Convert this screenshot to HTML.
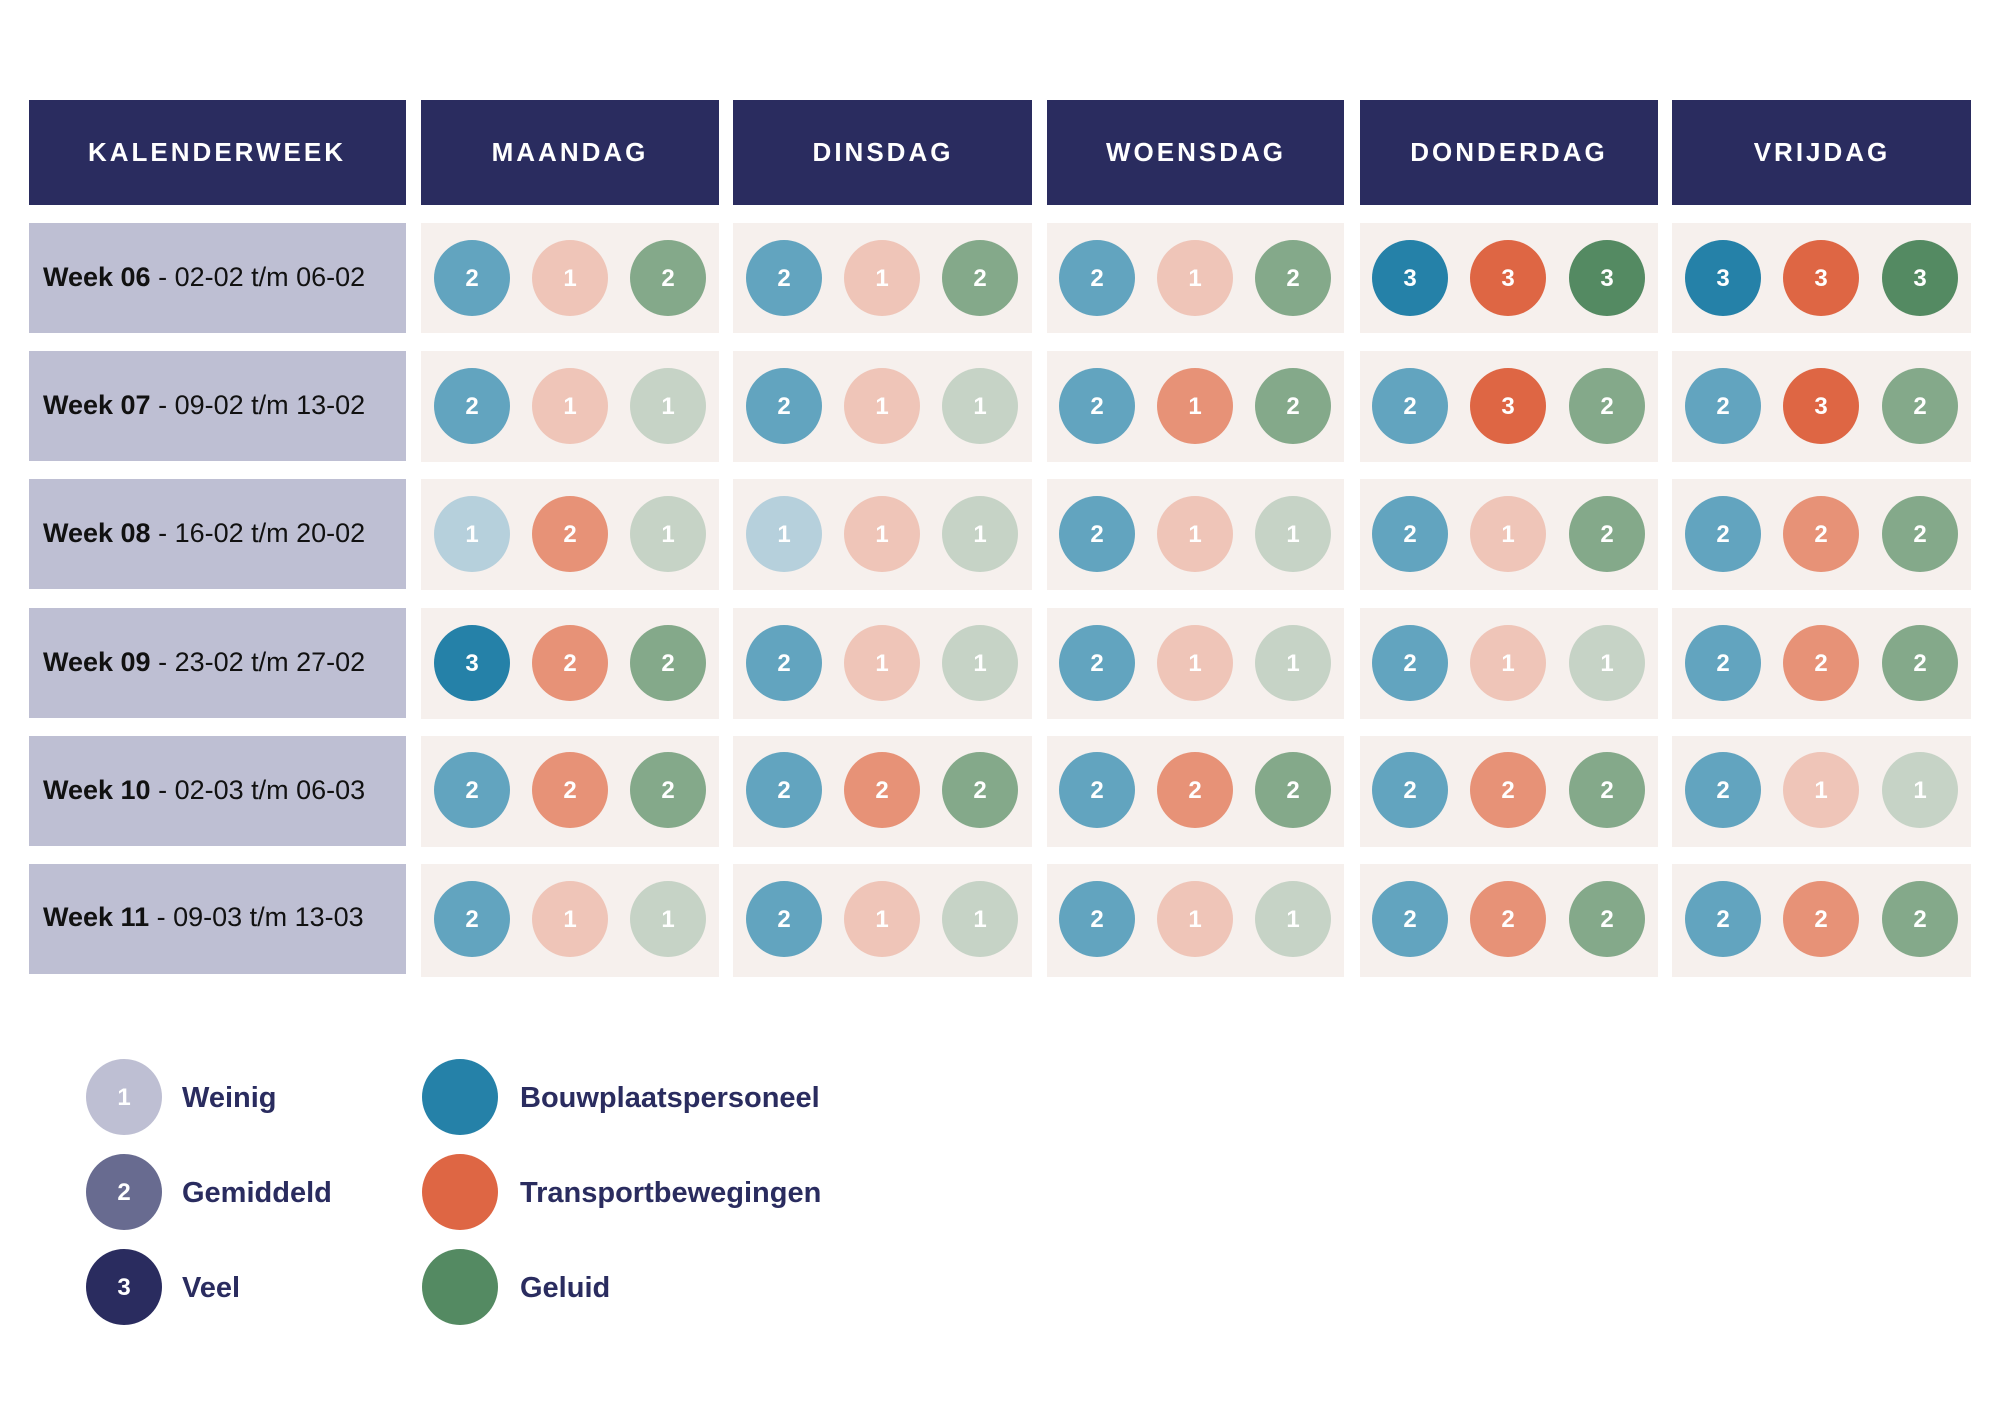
<!DOCTYPE html>
<html><head><meta charset="utf-8"><style>
html,body{margin:0;padding:0;background:#fff;}
svg{display:block;}
.h{font-family:"Liberation Sans",sans-serif;font-weight:bold;font-size:26px;fill:#fff;letter-spacing:3px;text-anchor:middle;}
.w{font-family:"Liberation Sans",sans-serif;font-size:27px;fill:#111;}
.d{font-family:"Liberation Sans",sans-serif;font-weight:bold;font-size:24px;fill:#fff;text-anchor:middle;}
.l{font-family:"Liberation Sans",sans-serif;font-weight:bold;font-size:29px;fill:#2a2c5f;}
.B3{fill:#2581a8}.B2{fill:#62a4bf}.B1{fill:#b6d0dc}
.O3{fill:#de6644}.O2{fill:#e79277}.O1{fill:#efc5b8}
.G3{fill:#548a62}.G2{fill:#84a98a}.G1{fill:#c6d3c6}
</style></head><body>
<svg width="2000" height="1414" viewBox="0 0 2000 1414" xmlns="http://www.w3.org/2000/svg">
<g fill="#2a2c5f">
<rect x="29" y="100" width="377" height="105"/>
<rect x="421" y="100" width="298" height="105"/>
<rect x="733" y="100" width="299" height="105"/>
<rect x="1047" y="100" width="297" height="105"/>
<rect x="1360" y="100" width="298" height="105"/>
<rect x="1672" y="100" width="299" height="105"/>
</g>
<text class="h" x="217" y="161">KALENDERWEEK</text>
<text class="h" x="570" y="161">MAANDAG</text>
<text class="h" x="883" y="161">DINSDAG</text>
<text class="h" x="1196" y="161">WOENSDAG</text>
<text class="h" x="1509" y="161">DONDERDAG</text>
<text class="h" x="1822" y="161">VRIJDAG</text>

<g fill="#bebfd3">
<rect x="29" y="223" width="377" height="110"/>
<rect x="29" y="351" width="377" height="110"/>
<rect x="29" y="479" width="377" height="110"/>
<rect x="29" y="608" width="377" height="110"/>
<rect x="29" y="736" width="377" height="110"/>
<rect x="29" y="864" width="377" height="110"/>
</g>
<g fill="#f6f0ed">
<rect x="421" y="223" width="298" height="110"/><rect x="733" y="223" width="299" height="110"/><rect x="1047" y="223" width="297" height="110"/><rect x="1360" y="223" width="298" height="110"/><rect x="1672" y="223" width="299" height="110"/>
<rect x="421" y="351" width="298" height="111"/><rect x="733" y="351" width="299" height="111"/><rect x="1047" y="351" width="297" height="111"/><rect x="1360" y="351" width="298" height="111"/><rect x="1672" y="351" width="299" height="111"/>
<rect x="421" y="479" width="298" height="111"/><rect x="733" y="479" width="299" height="111"/><rect x="1047" y="479" width="297" height="111"/><rect x="1360" y="479" width="298" height="111"/><rect x="1672" y="479" width="299" height="111"/>
<rect x="421" y="608" width="298" height="111"/><rect x="733" y="608" width="299" height="111"/><rect x="1047" y="608" width="297" height="111"/><rect x="1360" y="608" width="298" height="111"/><rect x="1672" y="608" width="299" height="111"/>
<rect x="421" y="736" width="298" height="111"/><rect x="733" y="736" width="299" height="111"/><rect x="1047" y="736" width="297" height="111"/><rect x="1360" y="736" width="298" height="111"/><rect x="1672" y="736" width="299" height="111"/>
<rect x="421" y="864" width="298" height="113"/><rect x="733" y="864" width="299" height="113"/><rect x="1047" y="864" width="297" height="113"/><rect x="1360" y="864" width="298" height="113"/><rect x="1672" y="864" width="299" height="113"/>
</g>
<text class="w" x="43" y="286"><tspan font-weight="bold">Week 06</tspan> - 02-02 t/m 06-02</text>
<text class="w" x="43" y="414"><tspan font-weight="bold">Week 07</tspan> - 09-02 t/m 13-02</text>
<text class="w" x="43" y="542"><tspan font-weight="bold">Week 08</tspan> - 16-02 t/m 20-02</text>
<text class="w" x="43" y="671"><tspan font-weight="bold">Week 09</tspan> - 23-02 t/m 27-02</text>
<text class="w" x="43" y="799"><tspan font-weight="bold">Week 10</tspan> - 02-03 t/m 06-03</text>
<text class="w" x="43" y="926"><tspan font-weight="bold">Week 11</tspan> - 09-03 t/m 13-03</text>

<g>
<circle class="B2" cx="472" cy="278" r="38"/><circle class="O1" cx="570" cy="278" r="38"/><circle class="G2" cx="668" cy="278" r="38"/>
<circle class="B2" cx="784" cy="278" r="38"/><circle class="O1" cx="882" cy="278" r="38"/><circle class="G2" cx="980" cy="278" r="38"/>
<circle class="B2" cx="1097" cy="278" r="38"/><circle class="O1" cx="1195" cy="278" r="38"/><circle class="G2" cx="1293" cy="278" r="38"/>
<circle class="B3" cx="1410" cy="278" r="38"/><circle class="O3" cx="1508" cy="278" r="38"/><circle class="G3" cx="1607" cy="278" r="38"/>
<circle class="B3" cx="1723" cy="278" r="38"/><circle class="O3" cx="1821" cy="278" r="38"/><circle class="G3" cx="1920" cy="278" r="38"/>
</g>
<g class="d">
<text x="472" y="286">2</text><text x="570" y="286">1</text><text x="668" y="286">2</text>
<text x="784" y="286">2</text><text x="882" y="286">1</text><text x="980" y="286">2</text>
<text x="1097" y="286">2</text><text x="1195" y="286">1</text><text x="1293" y="286">2</text>
<text x="1410" y="286">3</text><text x="1508" y="286">3</text><text x="1607" y="286">3</text>
<text x="1723" y="286">3</text><text x="1821" y="286">3</text><text x="1920" y="286">3</text>
</g>
<g>
<circle class="B2" cx="472" cy="406" r="38"/><circle class="O1" cx="570" cy="406" r="38"/><circle class="G1" cx="668" cy="406" r="38"/>
<circle class="B2" cx="784" cy="406" r="38"/><circle class="O1" cx="882" cy="406" r="38"/><circle class="G1" cx="980" cy="406" r="38"/>
<circle class="B2" cx="1097" cy="406" r="38"/><circle class="O2" cx="1195" cy="406" r="38"/><circle class="G2" cx="1293" cy="406" r="38"/>
<circle class="B2" cx="1410" cy="406" r="38"/><circle class="O3" cx="1508" cy="406" r="38"/><circle class="G2" cx="1607" cy="406" r="38"/>
<circle class="B2" cx="1723" cy="406" r="38"/><circle class="O3" cx="1821" cy="406" r="38"/><circle class="G2" cx="1920" cy="406" r="38"/>
</g>
<g class="d">
<text x="472" y="414">2</text><text x="570" y="414">1</text><text x="668" y="414">1</text>
<text x="784" y="414">2</text><text x="882" y="414">1</text><text x="980" y="414">1</text>
<text x="1097" y="414">2</text><text x="1195" y="414">1</text><text x="1293" y="414">2</text>
<text x="1410" y="414">2</text><text x="1508" y="414">3</text><text x="1607" y="414">2</text>
<text x="1723" y="414">2</text><text x="1821" y="414">3</text><text x="1920" y="414">2</text>
</g>
<g>
<circle class="B1" cx="472" cy="534" r="38"/><circle class="O2" cx="570" cy="534" r="38"/><circle class="G1" cx="668" cy="534" r="38"/>
<circle class="B1" cx="784" cy="534" r="38"/><circle class="O1" cx="882" cy="534" r="38"/><circle class="G1" cx="980" cy="534" r="38"/>
<circle class="B2" cx="1097" cy="534" r="38"/><circle class="O1" cx="1195" cy="534" r="38"/><circle class="G1" cx="1293" cy="534" r="38"/>
<circle class="B2" cx="1410" cy="534" r="38"/><circle class="O1" cx="1508" cy="534" r="38"/><circle class="G2" cx="1607" cy="534" r="38"/>
<circle class="B2" cx="1723" cy="534" r="38"/><circle class="O2" cx="1821" cy="534" r="38"/><circle class="G2" cx="1920" cy="534" r="38"/>
</g>
<g class="d">
<text x="472" y="542">1</text><text x="570" y="542">2</text><text x="668" y="542">1</text>
<text x="784" y="542">1</text><text x="882" y="542">1</text><text x="980" y="542">1</text>
<text x="1097" y="542">2</text><text x="1195" y="542">1</text><text x="1293" y="542">1</text>
<text x="1410" y="542">2</text><text x="1508" y="542">1</text><text x="1607" y="542">2</text>
<text x="1723" y="542">2</text><text x="1821" y="542">2</text><text x="1920" y="542">2</text>
</g>
<g>
<circle class="B3" cx="472" cy="663" r="38"/><circle class="O2" cx="570" cy="663" r="38"/><circle class="G2" cx="668" cy="663" r="38"/>
<circle class="B2" cx="784" cy="663" r="38"/><circle class="O1" cx="882" cy="663" r="38"/><circle class="G1" cx="980" cy="663" r="38"/>
<circle class="B2" cx="1097" cy="663" r="38"/><circle class="O1" cx="1195" cy="663" r="38"/><circle class="G1" cx="1293" cy="663" r="38"/>
<circle class="B2" cx="1410" cy="663" r="38"/><circle class="O1" cx="1508" cy="663" r="38"/><circle class="G1" cx="1607" cy="663" r="38"/>
<circle class="B2" cx="1723" cy="663" r="38"/><circle class="O2" cx="1821" cy="663" r="38"/><circle class="G2" cx="1920" cy="663" r="38"/>
</g>
<g class="d">
<text x="472" y="671">3</text><text x="570" y="671">2</text><text x="668" y="671">2</text>
<text x="784" y="671">2</text><text x="882" y="671">1</text><text x="980" y="671">1</text>
<text x="1097" y="671">2</text><text x="1195" y="671">1</text><text x="1293" y="671">1</text>
<text x="1410" y="671">2</text><text x="1508" y="671">1</text><text x="1607" y="671">1</text>
<text x="1723" y="671">2</text><text x="1821" y="671">2</text><text x="1920" y="671">2</text>
</g>
<g>
<circle class="B2" cx="472" cy="790" r="38"/><circle class="O2" cx="570" cy="790" r="38"/><circle class="G2" cx="668" cy="790" r="38"/>
<circle class="B2" cx="784" cy="790" r="38"/><circle class="O2" cx="882" cy="790" r="38"/><circle class="G2" cx="980" cy="790" r="38"/>
<circle class="B2" cx="1097" cy="790" r="38"/><circle class="O2" cx="1195" cy="790" r="38"/><circle class="G2" cx="1293" cy="790" r="38"/>
<circle class="B2" cx="1410" cy="790" r="38"/><circle class="O2" cx="1508" cy="790" r="38"/><circle class="G2" cx="1607" cy="790" r="38"/>
<circle class="B2" cx="1723" cy="790" r="38"/><circle class="O1" cx="1821" cy="790" r="38"/><circle class="G1" cx="1920" cy="790" r="38"/>
</g>
<g class="d">
<text x="472" y="798">2</text><text x="570" y="798">2</text><text x="668" y="798">2</text>
<text x="784" y="798">2</text><text x="882" y="798">2</text><text x="980" y="798">2</text>
<text x="1097" y="798">2</text><text x="1195" y="798">2</text><text x="1293" y="798">2</text>
<text x="1410" y="798">2</text><text x="1508" y="798">2</text><text x="1607" y="798">2</text>
<text x="1723" y="798">2</text><text x="1821" y="798">1</text><text x="1920" y="798">1</text>
</g>
<g>
<circle class="B2" cx="472" cy="919" r="38"/><circle class="O1" cx="570" cy="919" r="38"/><circle class="G1" cx="668" cy="919" r="38"/>
<circle class="B2" cx="784" cy="919" r="38"/><circle class="O1" cx="882" cy="919" r="38"/><circle class="G1" cx="980" cy="919" r="38"/>
<circle class="B2" cx="1097" cy="919" r="38"/><circle class="O1" cx="1195" cy="919" r="38"/><circle class="G1" cx="1293" cy="919" r="38"/>
<circle class="B2" cx="1410" cy="919" r="38"/><circle class="O2" cx="1508" cy="919" r="38"/><circle class="G2" cx="1607" cy="919" r="38"/>
<circle class="B2" cx="1723" cy="919" r="38"/><circle class="O2" cx="1821" cy="919" r="38"/><circle class="G2" cx="1920" cy="919" r="38"/>
</g>
<g class="d">
<text x="472" y="927">2</text><text x="570" y="927">1</text><text x="668" y="927">1</text>
<text x="784" y="927">2</text><text x="882" y="927">1</text><text x="980" y="927">1</text>
<text x="1097" y="927">2</text><text x="1195" y="927">1</text><text x="1293" y="927">1</text>
<text x="1410" y="927">2</text><text x="1508" y="927">2</text><text x="1607" y="927">2</text>
<text x="1723" y="927">2</text><text x="1821" y="927">2</text><text x="1920" y="927">2</text>
</g>

<circle cx="124" cy="1097" r="38" fill="#bebfd3"/>
<circle cx="124" cy="1192" r="38" fill="#686b90"/>
<circle cx="124" cy="1287" r="38" fill="#2a2c5f"/>
<g class="d">
<text x="124" y="1105">1</text><text x="124" y="1200">2</text><text x="124" y="1295">3</text>
</g>
<text class="l" x="182" y="1107">Weinig</text>
<text class="l" x="182" y="1202">Gemiddeld</text>
<text class="l" x="182" y="1297">Veel</text>
<circle cx="460" cy="1097" r="38" fill="#2581a8"/>
<circle cx="460" cy="1192" r="38" fill="#de6644"/>
<circle cx="460" cy="1287" r="38" fill="#548a62"/>
<text class="l" x="520" y="1107">Bouwplaatspersoneel</text>
<text class="l" x="520" y="1202">Transportbewegingen</text>
<text class="l" x="520" y="1297">Geluid</text>
</svg>
</body></html>
